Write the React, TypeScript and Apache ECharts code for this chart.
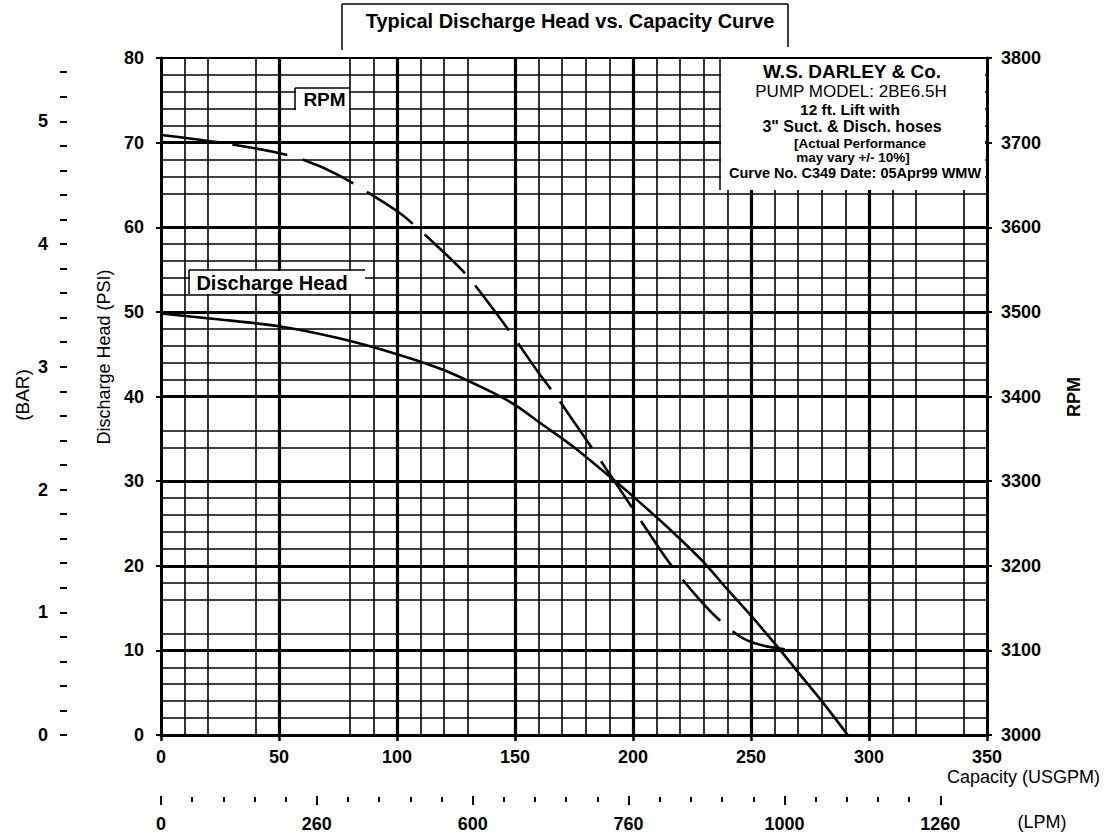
import React, { useEffect, useRef } from "react";
import * as echarts from "echarts";

// ---- data ----
const CAP_TICKS = [0, 50, 100, 150, 200, 250, 300, 350];
const PSI_TICKS = [0, 10, 20, 30, 40, 50, 60, 70, 80];
const RPM_TICKS = [3000, 3100, 3200, 3300, 3400, 3500, 3600, 3700, 3800];
const BAR_LABELS = [0, 1, 2, 3, 4, 5];
const BAR_TICKS = [0, 0.2, 0.4, 0.6, 0.8, 1, 1.2, 1.4, 1.6, 1.8, 2, 2.2, 2.4, 2.6, 2.8, 3, 3.2, 3.4, 3.6, 3.8, 4, 4.2, 4.4, 4.6, 4.8, 5, 5.2, 5.4];
const LPM_MAJOR = [0, 250, 500, 750, 1000, 1250];
const LPM_LABELS = ["0", "260", "600", "760", "1000", "1260"];
const LPM_MINOR = [50, 100, 150, 200, 300, 350, 400, 450, 550, 600, 650, 700, 800, 850, 900, 950, 1050, 1100, 1150, 1200];

// irregular grid of the original chart sheet
const X_THIN = [10, 20, 40, 80, 90, 110, 120, 130, 160, 170, 180, 190, 210, 220, 230, 240, 260, 270, 280, 290, 310, 320, 340];
const X_THICK = [50, 100, 150, 200, 250, 300];
const Y_THIN = [2, 4, 6, 8, 12, 16, 18, 22, 24, 26, 28, 34, 36, 42, 44, 46, 48, 52, 54, 56, 58, 64, 66, 68, 72, 74, 76, 78];
const Y_THICK = [10, 20, 30, 40, 50, 60, 70];

// Discharge head curve (USGPM, PSI)
const DH_CAP = [0, 25, 50, 75, 100, 120, 141, 150, 162, 175, 192, 200, 216, 230, 240, 250, 261, 270, 280, 291];
const DH_PSI = [49.8, 49.1, 48.3, 46.9, 45.0, 43.1, 40.4, 39.0, 36.6, 34.0, 30.1, 28.2, 24.2, 20.4, 17.2, 14.1, 10.5, 7.4, 4.0, 0];

// RPM curve (USGPM, RPM)
const RPM_CAP = [0, 25, 48, 60, 75, 90, 102, 115, 129, 140, 150, 160, 167, 175, 188, 195, 206, 215, 226, 235, 245, 252, 260, 268];
const RPM_VAL = [3709, 3700, 3689, 3680, 3662, 3637, 3615, 3583, 3545, 3506, 3468, 3428, 3402, 3370, 3317, 3288, 3242, 3205, 3167, 3140, 3117, 3108, 3103, 3100];

const LPM_PER_GPM = 3.78541;
const PSI_PER_BAR = 14.5038;

const FONT = '"Liberation Sans", Arial, Helvetica, sans-serif';

function txt(text: string, x: number, y: number, size: number, bold: boolean, extra: any = {}) {
  return {
    type: "text",
    x,
    y,
    z: 120,
    ...extra,
    style: {
      text,
      font: `${bold ? "bold " : ""}${size}px ${FONT}`,
      fill: "#000",
      align: extra.align || "center",
      verticalAlign: "middle",
      textAlign: extra.align || "center",
      textVerticalAlign: "middle",
    },
  };
}

function ln(x1: number, y1: number, x2: number, y2: number, w = 1.5) {
  return { type: "line", z: 110, shape: { x1, y1, x2, y2 }, style: { stroke: "#000", lineWidth: w } };
}

function rect(x: number, y: number, width: number, height: number) {
  return { type: "rect", z: 100, shape: { x, y, width, height }, style: { fill: "#fff" } };
}

export default function App() {
  const ref = useRef<HTMLDivElement>(null);

  useEffect(() => {
    document.body.style.margin = "0";
    const chart = echarts.init(ref.current as HTMLDivElement, null, { renderer: "svg" });
    const tickLabel = { color: "#000", fontSize: 18, fontWeight: "bold", fontFamily: FONT };
    const blackLine = (w: number) => ({ color: "#000", width: w });
    const hiddenLine = { show: true, onZero: false, lineStyle: { color: "rgba(0,0,0,0)", width: 1 } };

    const option: any = {
      animation: false,
      backgroundColor: "#fff",
      textStyle: { fontFamily: FONT },
      grid: {
        left: 161,
        top: 58,
        width: 826,
        height: 677,
        show: true,
        borderColor: "#000",
        borderWidth: 2,
        backgroundColor: "transparent",
      },
      xAxis: [
        {
          type: "value",
          min: CAP_TICKS[0],
          max: CAP_TICKS[CAP_TICKS.length - 1],
          interval: 50,
          position: "bottom",
          axisLine: { show: true, onZero: false, lineStyle: blackLine(3) },
          axisTick: { show: true, length: 6, lineStyle: blackLine(2.5) },
          axisLabel: { ...tickLabel, margin: 13 },
          splitLine: { show: false },
        },
        {
          type: "value",
          min: 0,
          max: CAP_TICKS[CAP_TICKS.length - 1] * LPM_PER_GPM,
          position: "bottom",
          offset: 61,
          axisLine: hiddenLine,
          axisTick: { show: true, length: 9, customValues: LPM_MAJOR, lineStyle: blackLine(2) },
          axisLabel: {
            ...tickLabel,
            margin: 19,
            customValues: LPM_MAJOR,
            formatter: (v: number) => {
              const i = LPM_MAJOR.indexOf(Math.round(v));
              return i >= 0 ? LPM_LABELS[i] : "";
            },
          },
          splitLine: { show: false },
        },
        {
          type: "value",
          min: 0,
          max: CAP_TICKS[CAP_TICKS.length - 1] * LPM_PER_GPM,
          position: "bottom",
          offset: 62,
          axisLine: hiddenLine,
          axisTick: { show: true, length: 5, customValues: LPM_MINOR, lineStyle: blackLine(2) },
          axisLabel: { show: false },
          splitLine: { show: false },
        },
      ],
      yAxis: [
        {
          type: "value",
          min: PSI_TICKS[0],
          max: PSI_TICKS[PSI_TICKS.length - 1],
          interval: 10,
          position: "left",
          axisLine: { show: true, onZero: false, lineStyle: blackLine(3) },
          axisTick: { show: true, length: 5, lineStyle: blackLine(2) },
          axisLabel: { ...tickLabel, margin: 17 },
          splitLine: { show: false },
        },
        {
          type: "value",
          min: RPM_TICKS[0],
          max: RPM_TICKS[RPM_TICKS.length - 1],
          interval: 100,
          position: "right",
          axisLine: { show: true, onZero: false, lineStyle: blackLine(3) },
          axisTick: { show: true, length: 5, lineStyle: blackLine(2) },
          axisLabel: { ...tickLabel, margin: 14, formatter: (v: number) => String(v) },
          splitLine: { show: false },
        },
        {
          type: "value",
          min: 0,
          max: PSI_TICKS[PSI_TICKS.length - 1] / PSI_PER_BAR,
          position: "left",
          offset: 94,
          axisLine: hiddenLine,
          axisTick: { show: true, length: 7, customValues: BAR_TICKS, lineStyle: blackLine(2) },
          axisLabel: { ...tickLabel, margin: 19, customValues: BAR_LABELS, formatter: (v: number) => String(Math.round(v)) },
          splitLine: { show: false },
        },
      ],
      series: [
        {
          type: "line",
          name: "grid-thin",
          xAxisIndex: 0,
          yAxisIndex: 0,
          data: [],
          silent: true,
          z: 1,
          markLine: {
            silent: true,
            symbol: ["none", "none"],
            label: { show: false },
            emphasis: { disabled: true },
            lineStyle: { color: "#000", width: 1.6, type: "solid" },
            data: [...X_THIN.map((v) => ({ xAxis: v })), ...Y_THIN.map((v) => ({ yAxis: v }))],
          },
        },
        {
          type: "line",
          name: "grid-thick",
          xAxisIndex: 0,
          yAxisIndex: 0,
          data: [],
          silent: true,
          z: 1,
          markLine: {
            silent: true,
            symbol: ["none", "none"],
            label: { show: false },
            emphasis: { disabled: true },
            lineStyle: { color: "#000", width: 3.2, type: "solid" },
            data: [...X_THICK.map((v) => ({ xAxis: v })), ...Y_THICK.map((v) => ({ yAxis: v }))],
          },
        },
        {
          type: "line",
          name: "Discharge Head",
          xAxisIndex: 0,
          yAxisIndex: 0,
          data: DH_CAP.map((c, i) => [c, DH_PSI[i]]),
          smooth: 0.25,
          showSymbol: false,
          silent: true,
          z: 5,
          lineStyle: { color: "#000", width: 2.6 },
        },
        {
          type: "line",
          name: "RPM",
          xAxisIndex: 0,
          yAxisIndex: 1,
          data: RPM_CAP.map((c, i) => [c, RPM_VAL[i]]),
          smooth: 0.3,
          showSymbol: false,
          silent: true,
          z: 5,
          lineStyle: { color: "#000", width: 2.6, type: [56, 16] },
        },
      ],
      graphic: [
        // title frame
        ln(342, 4, 788, 4),
        ln(342, 4, 342, 50),
        ln(788, 4, 788, 47),
        txt("Typical Discharge Head vs. Capacity Curve", 570, 21, 20, true),
        // info box
        rect(721, 59, 264, 131),
        ln(720, 58, 720, 190),
        txt("W.S. DARLEY & Co.", 852, 71, 19, true),
        txt("PUMP MODEL: 2BE6.5H", 851, 91, 17, false),
        txt("12 ft. Lift with", 850, 109, 15.5, true),
        txt('3" Suct. & Disch. hoses', 852, 126, 16, true),
        txt("[Actual Performance", 860, 143, 13.5, true),
        txt("may vary +/- 10%]", 853, 157.5, 13.5, true),
        txt("Curve No. C349 Date: 05Apr99 WMW", 855, 172.5, 14.5, true),
        // RPM label box
        rect(296, 89, 53, 22),
        ln(295, 88, 350, 88),
        ln(295, 88, 295, 110),
        txt("RPM", 324.5, 99, 19, true),
        // Discharge Head label box
        rect(190, 271, 175, 23),
        ln(189, 270, 365, 270),
        ln(189, 270, 189, 294),
        txt("Discharge Head", 272, 283, 20, true),
        // axis titles
        txt("Discharge Head (PSI)", 103.5, 357, 18, false, { rotation: Math.PI / 2 }),
        txt("(BAR)", 22, 395, 19, false, { rotation: Math.PI / 2 }),
        txt("RPM", 1074, 397, 18, true, { rotation: Math.PI / 2 }),
        txt("Capacity (USGPM)", 1100, 777, 18, false, { align: "right" }),
        txt("(LPM)", 1042, 822, 18, false),
      ],
    };

    chart.setOption(option);
    return () => chart.dispose();
  }, []);

  return <div ref={ref} style={{ width: 1109, height: 838 }} />;
}
